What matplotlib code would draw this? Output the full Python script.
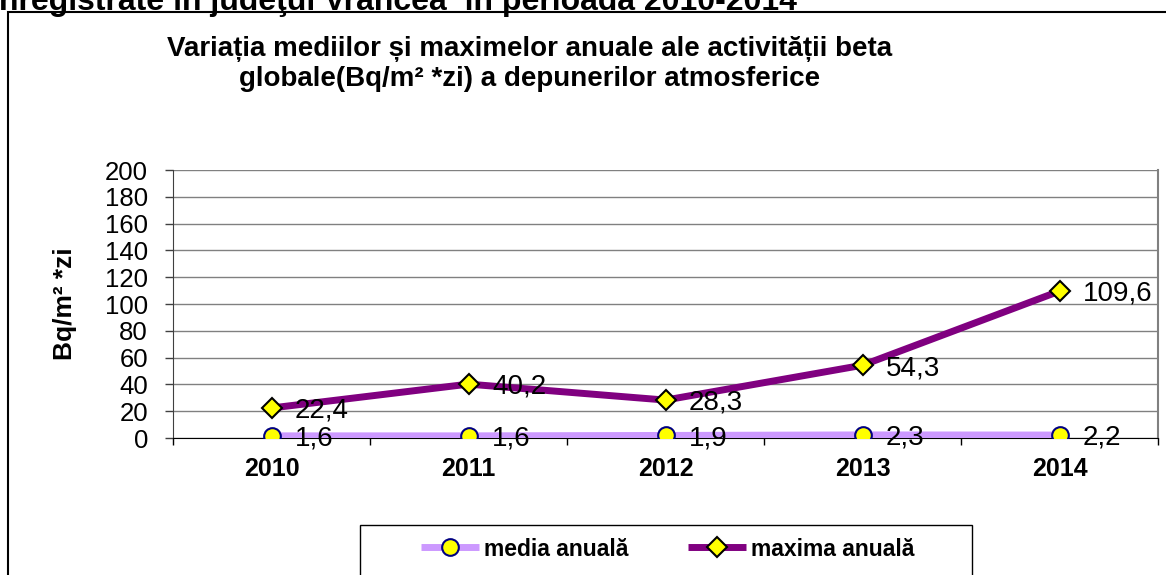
import matplotlib
matplotlib.use("Agg")
import matplotlib.pyplot as plt
from matplotlib.patches import Rectangle

plt.rcParams['font.family'] = ['Liberation Sans', 'DejaVu Sans']

years = ['2010', '2011', '2012', '2013', '2014']
media = [1.6, 1.6, 1.9, 2.3, 2.2]
maxima = [22.4, 40.2, 28.3, 54.3, 109.6]
yticks = list(range(0, 201, 20))

W, H = 1166, 575
fig = plt.figure(figsize=(W / 100, H / 100), dpi=100)

# page heading above the chart (its top runs off the page)
fig.text(-10 / W, 1 - 10 / H, 'înregistrate în judeţul Vrancea  în perioada 2010-2014',
         fontsize=23, fontweight='bold', ha='left', va='baseline')

# chart border
fig.patches.append(Rectangle((8 / W, -0.2), 1.2, 1.2 - 12 / H,
                             transform=fig.transFigure, fill=False,
                             edgecolor='black', lw=1.5, clip_on=False))

ax = fig.add_axes([173 / W, 1 - 438 / H, (1158 - 173) / W, (438 - 170) / H])
x = list(range(len(years)))

ax.set_xlim(-0.5, len(years) - 0.5)
ax.set_ylim(0, 200)
ax.set_yticks(yticks)
ax.set_yticklabels([str(v) for v in yticks], fontsize=18.5)
ax.yaxis.grid(True, color='#808080', lw=1)
ax.set_axisbelow(True)

ax.set_xticks(x)
ax.set_xticklabels(years, fontsize=18, fontweight='bold')
ax.tick_params(axis='x', length=0, pad=14)
ax.set_xticks([i - 0.5 for i in range(len(years) + 1)], minor=True)
ax.tick_params(axis='x', which='minor', length=5, width=1, color='black', direction='out')
ax.tick_params(axis='y', length=6, width=1, color='#404040', pad=12)

ax.spines['top'].set_visible(False)
ax.spines['right'].set_color('#808080')
ax.spines['right'].set_linewidth(1.5)
ax.spines['left'].set_color('#404040')
ax.spines['bottom'].set_color('black')

ax.set_ylabel('Bq/m² *zi', fontsize=19, fontweight='bold', labelpad=20)

l1, = ax.plot(x, media, color='#CC99FF', lw=5, marker='o', ms=12,
              mfc='#FFFF00', mec='#000080', mew=1.5, zorder=3, solid_capstyle='butt')
l2, = ax.plot(x, maxima, color='#800080', lw=5, marker='D', ms=10,
              mfc='#FFFF00', mec='black', mew=1.5, zorder=4, solid_capstyle='butt')

for xi, v in zip(x, media):
    ax.annotate(f'{v:.1f}'.replace('.', ','), (xi, v), xytext=(17, -2),
                textcoords='offset points', fontsize=20, va='center', ha='left', zorder=5)
for xi, v in zip(x, maxima):
    ax.annotate(f'{v:.1f}'.replace('.', ','), (xi, v), xytext=(17, -2),
                textcoords='offset points', fontsize=20, va='center', ha='left', zorder=5)

fig.text(530 / W, 1 - 64 / H,
         'Variația mediilor și maximelor anuale ale activității beta\nglobale(Bq/m² *zi) a depunerilor atmosferice',
         fontsize=20, fontweight='bold', ha='center', va='center', linespacing=1.2)

# legend box at the bottom
fig.patches.append(Rectangle((360 / W, -0.2), (972 - 360) / W, 0.2 + 1 - 525 / H,
                             transform=fig.transFigure, fill=False,
                             edgecolor='black', lw=1, clip_on=False))
fig.legend([l1, l2], ['media anuală', 'maxima anuală'], ncol=2, frameon=False,
           loc='center', bbox_to_anchor=(668 / W, 1 - 549 / H),
           prop={'size': 16.5, 'weight': 'bold'}, handlelength=2.5,
           handletextpad=0.25, columnspacing=2.6)

fig.savefig('out.png', dpi=100)
